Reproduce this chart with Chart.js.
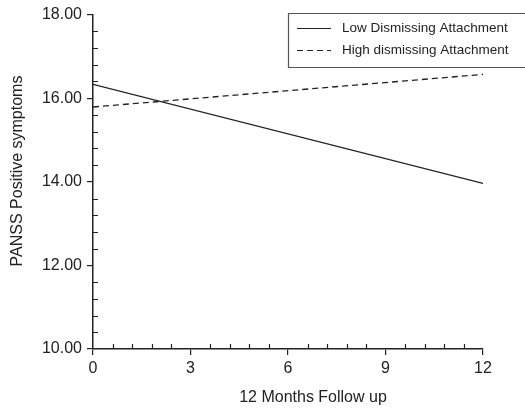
<!DOCTYPE html>
<html>
<head>
<meta charset="utf-8">
<script src="https://cdn.jsdelivr.net/npm/chart.js@4/dist/chart.umd.min.js"></script>
<style>
  html, body { margin: 0; padding: 0; background: #fff; overflow: hidden; }
  #wrap { width: 525px; height: 411px; }
</style>
</head>
<body>
<div id="wrap"><canvas id="chart"></canvas></div>
<script>
// data
var months = [0, 12];
var lowDismissing = [16.33, 13.96];
var highDismissing = [15.79, 16.57];
var seriesNames = ['Low Dismissing Attachment', 'High dismissing Attachment'];
var xTicks = [0, 3, 6, 9, 12];
var yTicks = [10, 12, 14, 16, 18];
var xTitle = '12 Months Follow up';
var yTitle = 'PANSS Positive symptoms';

var FONT = '"Liberation Sans", Arial, sans-serif';

function pts(xs, ys) {
  return xs.map(function (x, i) { return { x: x, y: ys[i] }; });
}

// minor ticks (inward) + axis titles + boxed legend
var extras = {
  id: 'extras',
  afterDraw: function (chart) {
    var ctx = chart.ctx;
    var xs = chart.scales.x, ys = chart.scales.y;
    var a = chart.chartArea;
    ctx.save();
    ctx.strokeStyle = '#222';
    ctx.lineWidth = 1.2;
    ctx.beginPath();
    for (var i = 1; i < 20; i++) {
      var v = 10 + i * 0.4;
      if (i % 5 === 0) continue;
      var py = Math.round(ys.getPixelForValue(v)) + 0.5;
      ctx.moveTo(a.left, py);
      ctx.lineTo(a.left + 5, py);
    }
    for (var j = 1; j < 20; j++) {
      if (j % 5 === 0) continue;
      var px = Math.round(xs.getPixelForValue(j * 0.6)) + 0.5;
      ctx.moveTo(px, a.bottom);
      ctx.lineTo(px, a.bottom - 5);
    }
    ctx.stroke();

    // axis titles
    ctx.fillStyle = '#222';
    ctx.font = '16px ' + FONT;
    ctx.textAlign = 'center';
    ctx.textBaseline = 'middle';
    ctx.fillText(xTitle, 313, 398);
    ctx.translate(18, 171);
    ctx.rotate(-Math.PI / 2);
    ctx.fillText(yTitle, 0, 0);
    ctx.restore();

    // legend box, open on the right (cut by the edge in the original)
    ctx.save();
    ctx.strokeStyle = '#555';
    ctx.lineWidth = 1.2;
    ctx.beginPath();
    ctx.moveTo(560, 13.5);
    ctx.lineTo(288.5, 13.5);
    ctx.lineTo(288.5, 67.5);
    ctx.lineTo(560, 67.5);
    ctx.stroke();
    ctx.font = '13.5px ' + FONT;
    ctx.fillStyle = '#222';
    ctx.textBaseline = 'middle';
    ctx.textAlign = 'left';
    var rowsY = [28, 50];
    chart.data.datasets.forEach(function (ds, k) {
      ctx.strokeStyle = '#222';
      ctx.lineWidth = 1.2;
      ctx.setLineDash(ds.borderDash || []);
      ctx.beginPath();
      ctx.moveTo(297, rowsY[k] + 0.5);
      ctx.lineTo(331, rowsY[k] + 0.5);
      ctx.stroke();
      ctx.setLineDash([]);
      ctx.fillText(ds.label, 342, rowsY[k]);
    });
    ctx.restore();
  }
};

new Chart(document.getElementById('chart'), {
  type: 'line',
  data: {
    datasets: [{
      label: seriesNames[0],
      data: pts(months, lowDismissing),
      borderColor: '#222',
      borderWidth: 1.3,
      pointRadius: 0,
      fill: false
    }, {
      label: seriesNames[1],
      data: pts(months, highDismissing),
      borderColor: '#222',
      borderWidth: 1.3,
      borderDash: [6, 4],
      pointRadius: 0,
      fill: false
    }]
  },
  options: {
    responsive: true,
    maintainAspectRatio: false,
    animation: false,
    layout: { padding: { left: 0, right: 42, top: 7, bottom: 0 } },
    plugins: {
      legend: { display: false },
      tooltip: { enabled: false }
    },
    scales: {
      x: {
        type: 'linear',
        min: 0,
        max: 12,
        afterBuildTicks: function (s) { s.ticks = xTicks.map(function (v) { return { value: v }; }); },
        afterFit: function (s) { s.height = 62; },
        ticks: { color: '#222', font: { family: FONT, size: 16 }, padding: 4 },
        grid: { drawOnChartArea: false, tickLength: 6, color: '#222', lineWidth: 1.2 },
        border: { color: '#222', width: 1.5 }
      },
      y: {
        min: 10,
        max: 18,
        afterBuildTicks: function (s) { s.ticks = yTicks.map(function (v) { return { value: v }; }); },
        afterFit: function (s) { s.width = 93; },
        ticks: {
          color: '#222',
          font: { family: FONT, size: 16 },
          padding: 5,
          callback: function (v) { return Number(v).toFixed(2); }
        },
        grid: { drawOnChartArea: false, tickLength: 6, color: '#222', lineWidth: 1.2 },
        border: { color: '#222', width: 1.5 }
      }
    }
  },
  plugins: [extras]
});
</script>
</body>
</html>
